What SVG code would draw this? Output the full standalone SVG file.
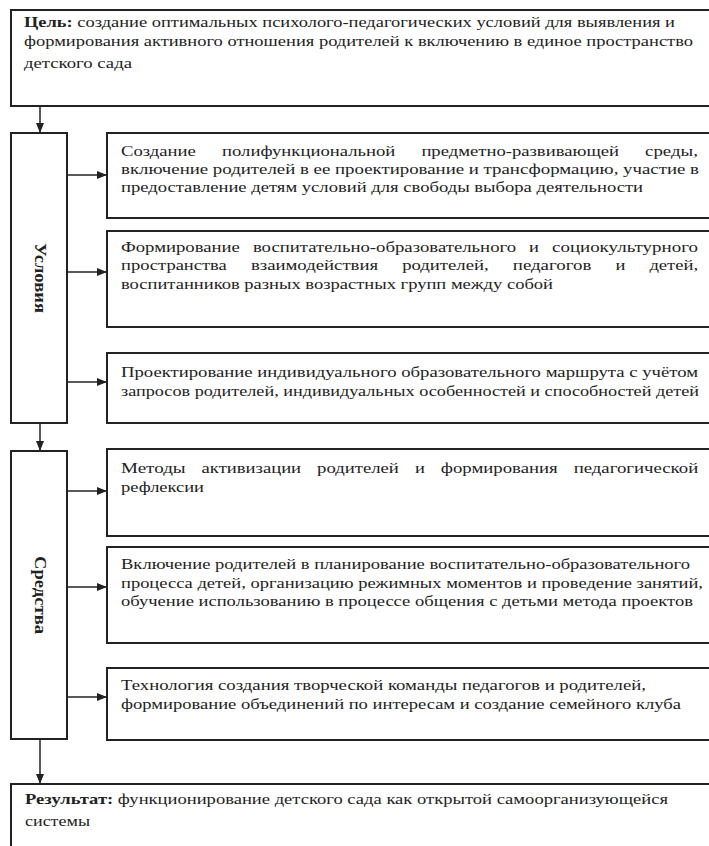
<svg xmlns="http://www.w3.org/2000/svg" width="709" height="846" viewBox="0 0 709 846">
<style>
.box{fill:#fff;stroke:#222;stroke-width:2}
.t{font-family:"Liberation Serif","Times New Roman",serif;font-size:15px;fill:#222}
.b{font-weight:bold}
.v{font-family:"Liberation Serif","Times New Roman",serif;font-size:16px;font-weight:bold;fill:#222;text-anchor:middle}
.c{stroke:#222;stroke-width:1.5;fill:none}
</style>
<defs>
<marker id="ah" markerUnits="userSpaceOnUse" markerWidth="10" markerHeight="10" viewBox="0 0 10 10" refX="10" refY="5" orient="auto">
<path d="M0,1 L10,5 L0,9 Z" fill="#222"/>
</marker>
</defs>
<rect width="709" height="846" fill="#fff"/>
<g id="connectors">
<line class="c" x1="40" y1="106" x2="40" y2="133" marker-end="url(#ah)"/>
<line class="c" x1="40" y1="423" x2="40" y2="451" marker-end="url(#ah)"/>
<line class="c" x1="40" y1="739" x2="40" y2="784" marker-end="url(#ah)"/>
<line class="c" x1="67" y1="175" x2="107" y2="175" marker-end="url(#ah)"/>
<line class="c" x1="67" y1="272" x2="107" y2="272" marker-end="url(#ah)"/>
<line class="c" x1="67" y1="382" x2="107" y2="382" marker-end="url(#ah)"/>
<line class="c" x1="67" y1="491" x2="107" y2="491" marker-end="url(#ah)"/>
<line class="c" x1="67" y1="587" x2="107" y2="587" marker-end="url(#ah)"/>
<line class="c" x1="67" y1="697" x2="107" y2="697" marker-end="url(#ah)"/>
</g>
<g id="goal">
<rect class="box" x="11" y="10" width="710" height="96"/>
<text class="t" x="24" y="27" textLength="651" lengthAdjust="spacingAndGlyphs"><tspan class="b">Цель:</tspan> создание оптимальных психолого-педагогических условий для выявления и</text>
<text class="t" x="24" y="46" textLength="669" lengthAdjust="spacingAndGlyphs">формирования активного отношения родителей к включению в единое пространство</text>
<text class="t" x="24" y="68" textLength="108" lengthAdjust="spacingAndGlyphs">детского сада</text>
</g>
<g id="conditions">
<rect class="box" x="11" y="133" width="56" height="290"/>
<text class="v" transform="translate(40,278) rotate(90)" x="0" y="5" textLength="70" lengthAdjust="spacingAndGlyphs">Условия</text>
</g>
<g id="c1">
<rect class="box" x="107" y="133" width="620" height="85"/>
<text class="t" x="121" y="156" textLength="74.9" lengthAdjust="spacingAndGlyphs">Создание</text>
<text class="t" x="222" y="156" textLength="173.3" lengthAdjust="spacingAndGlyphs">полифункциональной</text>
<text class="t" x="421.4" y="156" textLength="197.6" lengthAdjust="spacingAndGlyphs">предметно-развивающей</text>
<text class="t" x="645.1" y="156" textLength="52.8" lengthAdjust="spacingAndGlyphs">среды,</text>
<text class="t" x="121" y="174" textLength="578" lengthAdjust="spacingAndGlyphs">включение родителей в ее проектирование и трансформацию, участие в</text>
<text class="t" x="121" y="192" textLength="522" lengthAdjust="spacingAndGlyphs">предоставление детям условий для свободы выбора деятельности</text>
</g>
<g id="c2">
<rect class="box" x="107" y="231" width="620" height="96"/>
<text class="t" x="121" y="252" textLength="118.9" lengthAdjust="spacingAndGlyphs">Формирование</text>
<text class="t" x="252.9" y="252" textLength="263.2" lengthAdjust="spacingAndGlyphs">воспитательно-образовательного</text>
<text class="t" x="529.1" y="252" textLength="9.9" lengthAdjust="spacingAndGlyphs">и</text>
<text class="t" x="552" y="252" textLength="145.9" lengthAdjust="spacingAndGlyphs">социокультурного</text>
<text class="t" x="121" y="270" textLength="105.8" lengthAdjust="spacingAndGlyphs">пространства</text>
<text class="t" x="250.9" y="270" textLength="127.2" lengthAdjust="spacingAndGlyphs">взаимодействия</text>
<text class="t" x="402.2" y="270" textLength="86.5" lengthAdjust="spacingAndGlyphs">родителей,</text>
<text class="t" x="512.8" y="270" textLength="78.5" lengthAdjust="spacingAndGlyphs">педагогов</text>
<text class="t" x="615.4" y="270" textLength="9.9" lengthAdjust="spacingAndGlyphs">и</text>
<text class="t" x="649.4" y="270" textLength="48.7" lengthAdjust="spacingAndGlyphs">детей,</text>
<text class="t" x="121" y="289" textLength="432" lengthAdjust="spacingAndGlyphs">воспитанников разных возрастных групп между собой</text>
</g>
<g id="c3">
<rect class="box" x="107" y="353" width="620" height="70"/>
<text class="t" x="121" y="377" textLength="577" lengthAdjust="spacingAndGlyphs">Проектирование индивидуального образовательного маршрута с учётом</text>
<text class="t" x="121" y="396" textLength="578" lengthAdjust="spacingAndGlyphs">запросов родителей, индивидуальных особенностей и способностей детей</text>
</g>
<g id="means">
<rect class="box" x="11" y="451" width="56" height="288"/>
<text class="v" transform="translate(40,595) rotate(90)" x="0" y="5" textLength="78" lengthAdjust="spacingAndGlyphs">Средства</text>
</g>
<g id="m1">
<rect class="box" x="107" y="449" width="620" height="87"/>
<text class="t" x="121" y="473" textLength="64.6" lengthAdjust="spacingAndGlyphs">Методы</text>
<text class="t" x="201.6" y="473" textLength="99.5" lengthAdjust="spacingAndGlyphs">активизации</text>
<text class="t" x="317.1" y="473" textLength="81.8" lengthAdjust="spacingAndGlyphs">родителей</text>
<text class="t" x="414.9" y="473" textLength="9.9" lengthAdjust="spacingAndGlyphs">и</text>
<text class="t" x="440.8" y="473" textLength="116.9" lengthAdjust="spacingAndGlyphs">формирования</text>
<text class="t" x="573.7" y="473" textLength="124.5" lengthAdjust="spacingAndGlyphs">педагогической</text>
<text class="t" x="121" y="492" textLength="83" lengthAdjust="spacingAndGlyphs">рефлексии</text>
</g>
<g id="m2">
<rect class="box" x="107" y="547" width="620" height="96"/>
<text class="t" x="121" y="569" textLength="569" lengthAdjust="spacingAndGlyphs">Включение родителей в планирование воспитательно-образовательного</text>
<text class="t" x="121" y="588" textLength="582" lengthAdjust="spacingAndGlyphs">процесса детей, организацию режимных моментов и проведение занятий,</text>
<text class="t" x="121" y="606" textLength="572" lengthAdjust="spacingAndGlyphs">обучение использованию в процессе общения с детьми метода проектов</text>
</g>
<g id="m3">
<rect class="box" x="107" y="668" width="620" height="72"/>
<text class="t" x="121" y="690" textLength="525" lengthAdjust="spacingAndGlyphs">Технология создания творческой команды педагогов и родителей,</text>
<text class="t" x="121" y="709" textLength="560" lengthAdjust="spacingAndGlyphs">формирование объединений по интересам и создание семейного клуба</text>
</g>
<g id="result">
<rect class="box" x="11" y="784" width="720" height="90"/>
<text class="t" x="25" y="804" textLength="643" lengthAdjust="spacingAndGlyphs"><tspan class="b">Результат:</tspan> функционирование детского сада как открытой самоорганизующейся</text>
<text class="t" x="25" y="826" textLength="65" lengthAdjust="spacingAndGlyphs">системы</text>
</g>
</svg>
